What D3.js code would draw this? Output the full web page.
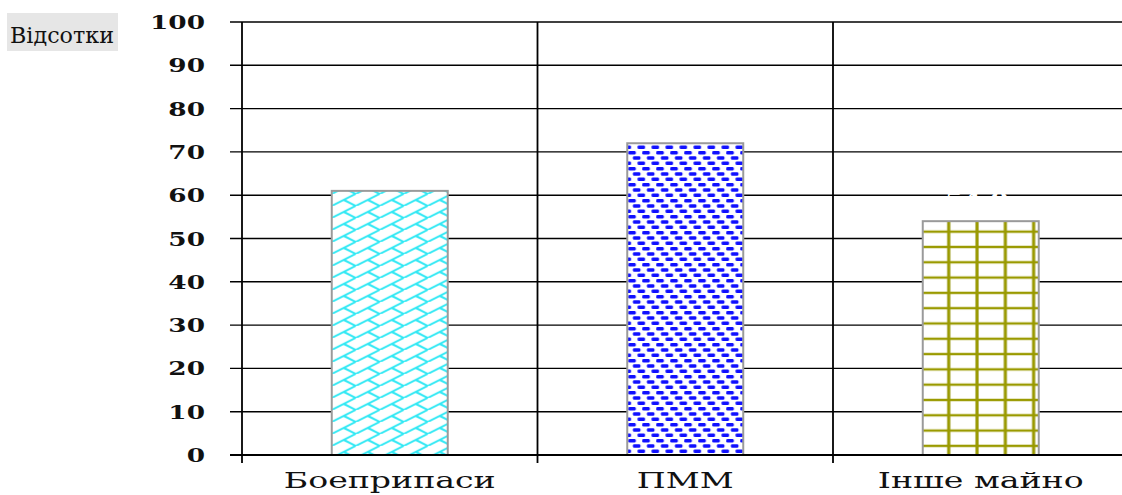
<!DOCTYPE html>
<html>
<head>
<meta charset="utf-8">
<script src="https://cdn.jsdelivr.net/npm/d3@7"></script>
<style>
  body { margin: 0; background: #fff; }
</style>
</head>
<body>
<div id="chart"></div>
<script>
  const categories = ["Боеприпаси", "ПММ", "Інше майно"];
  const values = [61, 72, 54];
  const yTicks = [0, 10, 20, 30, 40, 50, 60, 70, 80, 90, 100];
  const yLabel = "Відсотки";
  const ghostLabel = "54,0";

  const width = 1122;
  const height = 495;
  const x0 = 242, plotTop = 22, plotBottom = 455;
  const bandW = 295.5;

  const svg = d3.select("#chart").append("svg")
    .attr("width", width)
    .attr("height", height)
    .style("font-family", "DejaVu Serif");

  const xScale = d3.scaleBand()
    .domain(categories)
    .range([x0, x0 + bandW * categories.length]);
  const yScale = d3.scaleLinear()
    .domain([0, 100])
    .range([plotBottom, plotTop]);
  const barW = 116;
  const barX = i => xScale(categories[i]) + bandW / 2 - barW / 2;

  const defs = svg.append("defs");

  // cyan diagonal brick: long rising lines with short falling branches
  const bw = 24, bh = 12;
  const p1 = defs.append("pattern")
    .attr("id", "brick")
    .attr("patternUnits", "userSpaceOnUse")
    .attr("width", bw).attr("height", bh)
    .attr("x", barX(0)).attr("y", yScale(values[0]) + 3);
  const cyan = "#2ee8f4";
  [[0, bh, bw, 0], [-bw, bh, 0, 0], [bw, bh, 2 * bw, 0],
   [bw / 2, bh / 2, bw, bh], [-bw / 2, bh / 2, 0, bh], [bw / 2, -bh / 2, bw, 0]].forEach(l => {
    p1.append("line")
      .attr("x1", l[0]).attr("y1", l[1]).attr("x2", l[2]).attr("y2", l[3])
      .attr("stroke", cyan).attr("stroke-width", 2);
  });

  // blue staggered dashes
  const p2 = defs.append("pattern")
    .attr("id", "dash")
    .attr("patternUnits", "userSpaceOnUse")
    .attr("width", 14).attr("height", 16)
    .attr("x", barX(1)).attr("y", plotTop);
  [[1, 1], [5.7, 6.3], [10.3, 11.6], [-13, 1], [-8.3, 6.3], [-3.7, 11.6], [15, 1]].forEach(d => {
    p2.append("rect").attr("x", d[0]).attr("y", d[1]).attr("width", 7.5).attr("height", 3.4)
      .attr("rx", 1.2).attr("fill", "#1010ff");
  });

  // olive grid
  const p3 = defs.append("pattern")
    .attr("id", "grid")
    .attr("patternUnits", "userSpaceOnUse")
    .attr("width", 28.3).attr("height", 15.3)
    .attr("x", barX(2) + 26).attr("y", yScale(values[2]) + 10.5);
  p3.append("rect").attr("x", 0).attr("y", 0).attr("width", 2).attr("height", 15.3)
    .attr("fill", "#c9c98a");
  p3.append("rect").attr("x", 0).attr("y", 0).attr("width", 1.2).attr("height", 15.3)
    .attr("fill", "#9a9a00");
  p3.append("rect").attr("x", 28.3 - 2).attr("y", 0).attr("width", 2).attr("height", 15.3)
    .attr("fill", "#c9c98a");
  p3.append("rect").attr("x", 28.3 - 1.2).attr("y", 0).attr("width", 1.2).attr("height", 15.3)
    .attr("fill", "#9a9a00");
  p3.append("rect").attr("x", 0).attr("y", 0).attr("width", 28.3).attr("height", 1.2)
    .attr("fill", "#9a9a00");
  p3.append("rect").attr("x", 0).attr("y", 15.3 - 1.2).attr("width", 28.3).attr("height", 1.2)
    .attr("fill", "#9a9a00");

  const fills = ["url(#brick)", "url(#dash)", "url(#grid)"];

  // gridlines
  svg.append("g").selectAll("line")
    .data(yTicks.filter(t => t > 0))
    .join("line")
    .attr("x1", x0 - 12).attr("x2", width)
    .attr("y1", d => yScale(d)).attr("y2", d => yScale(d))
    .attr("stroke", "#000").attr("stroke-width", 1.4);
  // category separators
  svg.append("g").selectAll("line")
    .data(categories.slice(1))
    .join("line")
    .attr("x1", d => xScale(d)).attr("x2", d => xScale(d))
    .attr("y1", plotTop).attr("y2", plotBottom + 8)
    .attr("stroke", "#000").attr("stroke-width", 1.8);

  // bars: white base then pattern
  const bars = svg.append("g");
  bars.selectAll("rect.base")
    .data(values)
    .join("rect")
    .attr("class", "base")
    .attr("x", (d, i) => barX(i))
    .attr("y", d => yScale(d))
    .attr("width", barW)
    .attr("height", d => plotBottom - yScale(d))
    .attr("fill", "#fff");
  bars.selectAll("rect.fill")
    .data(values)
    .join("rect")
    .attr("class", "fill")
    .attr("x", (d, i) => barX(i))
    .attr("y", d => yScale(d))
    .attr("width", barW)
    .attr("height", d => plotBottom - yScale(d))
    .attr("fill", (d, i) => fills[i])
    .attr("stroke", "#9a9a9a")
    .attr("stroke-width", 2);

  // ghost white label over third bar
  svg.append("text")
    .attr("transform", `translate(${xScale(categories[2]) + bandW / 2 - 4},207) scale(1.3,1)`)
    .attr("text-anchor", "middle")
    .attr("font-size", 20)
    .attr("font-weight", "bold")
    .attr("fill", "#fff")
    .text(ghostLabel);

  // axes
  svg.append("line")
    .attr("x1", x0 - 12).attr("x2", width)
    .attr("y1", plotBottom).attr("y2", plotBottom)
    .attr("stroke", "#000").attr("stroke-width", 1.8);
  svg.append("line")
    .attr("x1", x0).attr("x2", x0)
    .attr("y1", plotTop).attr("y2", plotBottom + 8)
    .attr("stroke", "#000").attr("stroke-width", 1.8);

  // y tick labels, stretched to the reference width
  const tickText = svg.append("g").selectAll("text")
    .data(yTicks)
    .join("text")
    .attr("text-anchor", "end")
    .attr("font-size", 18)
    .attr("font-weight", "bold")
    .attr("fill", "#111")
    .text(d => d);
  const w100 = tickText.filter(d => d === 100).node().getComputedTextLength();
  const kt = 55 / w100;
  tickText.attr("transform", d => `translate(205,${yScale(d) + 7}) scale(${kt},1)`);

  // x labels
  const xText = svg.append("g").selectAll("text")
    .data(categories)
    .join("text")
    .attr("text-anchor", "middle")
    .attr("font-size", 22)
    .attr("fill", "#111")
    .text(d => d);
  const wFirst = xText.filter((d, i) => i === 0).node().getComputedTextLength();
  const kx = 212 / wFirst;
  xText.attr("transform", d => `translate(${xScale(d) + bandW / 2},488) scale(${kx},1)`);

  // y label with grey box
  svg.append("rect")
    .attr("x", 7).attr("y", 13).attr("width", 111).attr("height", 38)
    .attr("fill", "#e6e6e6");
  const yl = svg.append("text")
    .attr("text-anchor", "middle")
    .attr("font-size", 22)
    .attr("fill", "#111")
    .text(yLabel);
  const ky = 104 / yl.node().getComputedTextLength();
  yl.attr("transform", `translate(62,43) scale(${ky},1)`);
</script>
</body>
</html>
